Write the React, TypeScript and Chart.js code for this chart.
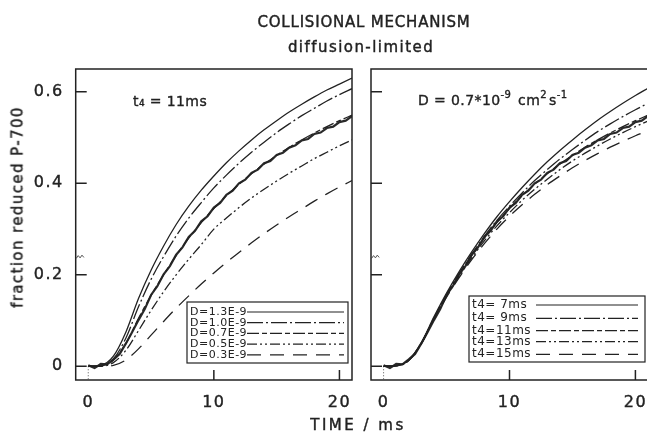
import React, { useEffect, useRef } from "react";
import { Chart, registerables } from "chart.js";
Chart.register(...registerables);

const INK = "#222222";
const FONT = "'DejaVu Sans', sans-serif";

// ---- data ----
const modelTime = [0, 1, 2, 3, 4, 5, 6, 7, 8, 9, 10, 11, 12, 13, 14, 15, 16, 17, 18, 19, 20, 21];
// left panel: t4 = 11 ms, various D
const d13 = [0, 0.002, 0.022, 0.075, 0.148, 0.21, 0.263, 0.31, 0.35, 0.385, 0.416, 0.445, 0.471, 0.495, 0.517, 0.537, 0.556, 0.573, 0.589, 0.604, 0.617, 0.63];
const d10 = [0, 0.001, 0.016, 0.062, 0.13, 0.19, 0.24, 0.285, 0.324, 0.358, 0.39, 0.418, 0.444, 0.468, 0.49, 0.511, 0.53, 0.548, 0.564, 0.58, 0.594, 0.607];
const d07 = [0, 0.001, 0.013, 0.05, 0.105, 0.155, 0.2, 0.242, 0.28, 0.314, 0.345, 0.373, 0.398, 0.421, 0.442, 0.461, 0.479, 0.495, 0.51, 0.524, 0.537, 0.549];
const d05 = [0, 0, 0.008, 0.035, 0.078, 0.122, 0.163, 0.2, 0.234, 0.266, 0.3, 0.324, 0.347, 0.368, 0.387, 0.405, 0.422, 0.438, 0.454, 0.468, 0.482, 0.495];
const d03 = [0, 0, 0.002, 0.014, 0.038, 0.068, 0.098, 0.127, 0.154, 0.18, 0.204, 0.227, 0.249, 0.27, 0.29, 0.309, 0.327, 0.344, 0.361, 0.377, 0.392, 0.406];
// right panel: D = 0.7e-9, various t4
const t7 = [0, 0.001, 0.014, 0.052, 0.108, 0.16, 0.207, 0.25, 0.29, 0.327, 0.36, 0.391, 0.42, 0.447, 0.472, 0.495, 0.517, 0.538, 0.557, 0.575, 0.592, 0.608];
const t9 = [0, 0.001, 0.013, 0.051, 0.106, 0.157, 0.203, 0.245, 0.284, 0.319, 0.35, 0.379, 0.406, 0.43, 0.453, 0.474, 0.494, 0.513, 0.53, 0.546, 0.561, 0.575];
const t11 = [0, 0.001, 0.013, 0.05, 0.105, 0.155, 0.2, 0.242, 0.28, 0.314, 0.345, 0.373, 0.398, 0.421, 0.442, 0.461, 0.479, 0.495, 0.51, 0.524, 0.537, 0.549];
const t13 = [0, 0.001, 0.013, 0.05, 0.104, 0.153, 0.197, 0.237, 0.274, 0.307, 0.336, 0.363, 0.387, 0.409, 0.43, 0.449, 0.466, 0.482, 0.497, 0.511, 0.524, 0.536];
const t15 = [0, 0.001, 0.013, 0.05, 0.103, 0.151, 0.194, 0.233, 0.268, 0.3, 0.328, 0.353, 0.376, 0.397, 0.416, 0.434, 0.45, 0.465, 0.479, 0.492, 0.504, 0.515];
// measured trace
const measTime = [0, 0.5, 1, 1.5, 2, 2.5, 3, 3.5, 4, 4.5, 5, 5.5, 6, 6.5, 7, 7.5, 8, 8.5, 9, 9.5, 10, 10.5, 11, 11.5, 12, 12.5, 13, 13.5, 14, 14.5, 15, 15.5, 16, 16.5, 17, 17.5, 18, 18.5, 19, 19.5, 20, 20.5, 21];
const measured = [0.002, -0.004, 0.005, 0.004, 0.015, 0.027, 0.05, 0.075, 0.101, 0.125, 0.156, 0.175, 0.201, 0.219, 0.244, 0.26, 0.283, 0.296, 0.317, 0.328, 0.347, 0.357, 0.375, 0.384, 0.4, 0.408, 0.423, 0.43, 0.444, 0.449, 0.462, 0.467, 0.478, 0.483, 0.494, 0.497, 0.508, 0.511, 0.521, 0.524, 0.534, 0.537, 0.547];
const preTime = [-0.95, -0.8, -0.65, -0.5, -0.35];
const preValue = [0.236, 0.242, 0.237, 0.243, 0.238];
const triggerTime = [0, 0];
const triggerValue = [0, -0.028];

const xTicks = [0, 10, 20];
const xTickMarks = [10, 20];
const yTicks = [0, 0.2, 0.4, 0.6];

const leftLegend = ["D=1.3E-9", "D=1.0E-9", "D=0.7E-9", "D=0.5E-9", "D=0.3E-9"];
const rightLegend = ["t4= 7ms", "t4= 9ms", "t4=11ms", "t4=13ms", "t4=15ms"];

const DASHES: number[][] = [[], [16, 3, 2, 3], [12, 3, 5, 3], [10, 3, 2, 3, 2, 3], [14, 9]];

const pts = (xs: number[], ys: number[]) => xs.map((x, i) => ({ x, y: ys[i] }));

function modelSets(series: number[][]) {
  return series.map((s, i) => ({
    data: pts(modelTime, s),
    borderColor: INK,
    borderWidth: 1.3,
    borderDash: DASHES[i],
    pointRadius: 0,
    cubicInterpolationMode: "monotone" as const,
    fill: false,
  }));
}

function traceSets() {
  return [
    { data: pts(measTime, measured), borderColor: "#2a2a2a", borderWidth: 2.2, pointRadius: 0, tension: 0, fill: false },
    { data: pts(preTime, preValue), borderColor: "#555", borderWidth: 1, pointRadius: 0, tension: 0, fill: false },
    { data: pts(triggerTime, triggerValue), borderColor: "#555", borderWidth: 1, borderDash: [1, 2], pointRadius: 0, fill: false },
  ];
}

type Seg = { text: string; sup?: boolean };
type PanelOpts = {
  legend: string[];
  legendBox: [number, number, number, number];
  legendRows: number[];
  legendFont: number;
  lineX: [number, number];
  note: Seg[];
  noteX: number;
  noteY: number;
};

const panelPlugin = {
  id: "panelDeco",
  beforeDraw(chart: any) {
    const ctx = chart.ctx;
    ctx.save();
    ctx.fillStyle = "#ffffff";
    ctx.fillRect(0, 0, chart.width, chart.height);
    ctx.restore();
    ctx.letterSpacing = "1.5px";
  },
  afterDraw(chart: any, _a: any, opts: PanelOpts) {
    const { ctx, chartArea: a, scales } = chart;
    ctx.save();
    ctx.letterSpacing = "0px";
    ctx.strokeStyle = INK;
    ctx.lineWidth = 1.5;
    ctx.setLineDash([]);
    ctx.strokeRect(a.left, a.top, a.right - a.left, a.bottom - a.top);
    ctx.beginPath();
    yTicks.forEach((v) => {
      const y = scales.y.getPixelForValue(v);
      ctx.moveTo(a.left, y);
      ctx.lineTo(a.left + 11, y);
    });
    xTickMarks.forEach((v) => {
      const x = scales.x.getPixelForValue(v);
      ctx.moveTo(x, a.bottom);
      ctx.lineTo(x, a.bottom - 10);
    });
    ctx.stroke();

    // legend box
    const [bx1, by1, bx2, by2] = opts.legendBox;
    ctx.fillStyle = "#ffffff";
    ctx.fillRect(bx1, by1, bx2 - bx1, by2 - by1);
    ctx.lineWidth = 1.2;
    ctx.strokeRect(bx1, by1, bx2 - bx1, by2 - by1);
    ctx.fillStyle = INK;
    ctx.font = `${opts.legendFont}px ${FONT}`;
    ctx.textBaseline = "middle";
    ctx.textAlign = "left";
    ctx.letterSpacing = "0.5px";
    opts.legend.forEach((label, i) => {
      const y = opts.legendRows[i];
      ctx.fillText(label, bx1 + 3, y);
      ctx.setLineDash(DASHES[i]);
      ctx.lineWidth = 1.2;
      ctx.beginPath();
      ctx.moveTo(opts.lineX[0], y);
      ctx.lineTo(opts.lineX[1], y);
      ctx.stroke();
    });
    ctx.setLineDash([]);

    // annotation
    ctx.letterSpacing = "0.4px";
    ctx.textBaseline = "alphabetic";
    ctx.lineWidth = 0.35;
    let x = opts.noteX;
    opts.note.forEach((seg) => {
      ctx.font = seg.sup ? `10px ${FONT}` : `14px ${FONT}`;
      const y = seg.sup ? opts.noteY - 7 : opts.noteY;
      ctx.fillText(seg.text, x, y);
      ctx.strokeText(seg.text, x, y);
      x += ctx.measureText(seg.text).width + (seg.sup ? 2 : 0);
    });
    ctx.restore();
  },
};

function makeConfig(datasets: any[], padLeftWidth: number, padRight: number, showY: boolean, deco: PanelOpts) {
  const noPad = (s: any) => {
    s.paddingLeft = 0;
    s.paddingRight = 0;
  };
  return {
    type: "line" as const,
    data: { datasets },
    plugins: [panelPlugin],
    options: {
      responsive: false,
      animation: false as const,
      devicePixelRatio: 1,
      layout: { padding: { top: 69, right: padRight, bottom: 0, left: 0 } },
      plugins: {
        legend: { display: false },
        tooltip: { enabled: false },
        panelDeco: deco,
      },
      scales: {
        x: {
          type: "linear" as const,
          min: -1,
          max: 21,
          grid: { display: false, drawTicks: false },
          border: { display: false },
          afterBuildTicks: (s: any) => {
            s.ticks = xTicks.map((v) => ({ value: v }));
          },
          afterFit: (s: any) => {
            s.height = 58;
            noPad(s);
          },
          ticks: {
            padding: 13,
            color: INK,
            textStrokeColor: INK,
            textStrokeWidth: 0.4,
            font: { family: FONT, size: 16 },
            maxRotation: 0,
            autoSkip: false,
            callback: (v: any) => String(v),
          },
        },
        y: {
          type: "linear" as const,
          min: -0.03,
          max: 0.65,
          grid: { display: false, drawTicks: false },
          border: { display: false },
          afterBuildTicks: (s: any) => {
            s.ticks = yTicks.map((v) => ({ value: v }));
          },
          afterFit: (s: any) => {
            s.width = padLeftWidth;
          },
          ticks: {
            display: showY,
            padding: 12,
            color: INK,
            textStrokeColor: INK,
            textStrokeWidth: 0.4,
            font: { family: FONT, size: 16 },
            callback: (v: any) => (v === 0 ? "0" : Number(v).toFixed(1)),
          },
        },
      },
    },
  };
}

export default function App() {
  const leftRef = useRef<HTMLCanvasElement>(null);
  const rightRef = useRef<HTMLCanvasElement>(null);

  useEffect(() => {
    const left = new Chart(
      leftRef.current as HTMLCanvasElement,
      makeConfig([...modelSets([d13, d10, d07, d05, d03]), ...traceSets()], 75.7, 8, true, {
        legend: leftLegend,
        legendBox: [187, 302, 348, 363],
        legendRows: [312, 322.7, 333.4, 344.1, 354.8],
        legendFont: 11,
        lineX: [247, 344],
        note: [{ text: "t₄ = 11ms" }],
        noteX: 133,
        noteY: 106,
      }) as any
    );
    const right = new Chart(
      rightRef.current as HTMLCanvasElement,
      makeConfig([...modelSets([t7, t9, t11, t13, t15]), ...traceSets()], 11, 7, false, {
        legend: rightLegend,
        legendBox: [109, 296, 285, 362],
        legendRows: [305, 318.3, 330.7, 341.7, 354.3],
        legendFont: 12,
        lineX: [176, 278],
        note: [
          { text: "D = 0.7*10" },
          { text: "-9", sup: true },
          { text: " cm" },
          { text: "2", sup: true },
          { text: "s" },
          { text: "-1", sup: true },
        ],
        noteX: 58,
        noteY: 105,
      }) as any
    );
    return () => {
      left.destroy();
      right.destroy();
    };
  }, []);

  const text: React.CSSProperties = {
    position: "absolute",
    whiteSpace: "nowrap",
    fontFamily: FONT,
    color: INK,
    transform: "translate(-50%, -50%)",
    lineHeight: 1,
    WebkitTextStroke: "0.4px #222",
  };

  return (
    <div style={{ position: "absolute", left: 0, top: 0, width: 647, height: 438, overflow: "hidden", background: "#fff" }}>
      <canvas ref={leftRef} width={360} height={438} style={{ position: "absolute", left: 0, top: 0, width: 360, height: 438 }} />
      <canvas ref={rightRef} width={295} height={438} style={{ position: "absolute", left: 360, top: 0, width: 295, height: 438 }} />
      <div style={{ ...text, left: 364, top: 22, fontSize: 15, letterSpacing: 0.8 }}>COLLISIONAL MECHANISM</div>
      <div style={{ ...text, left: 361, top: 47, fontSize: 15, letterSpacing: 1.45 }}>diffusion-limited</div>
      <div style={{ ...text, left: 358, top: 425, fontSize: 15, letterSpacing: 2.5 }}>TIME / ms</div>
      <div style={{ ...text, left: 18, top: 207, fontSize: 15, letterSpacing: 1.4, transform: "translate(-50%, -50%) rotate(-90deg)" }}>
        fraction reduced P-700
      </div>
    </div>
  );
}
